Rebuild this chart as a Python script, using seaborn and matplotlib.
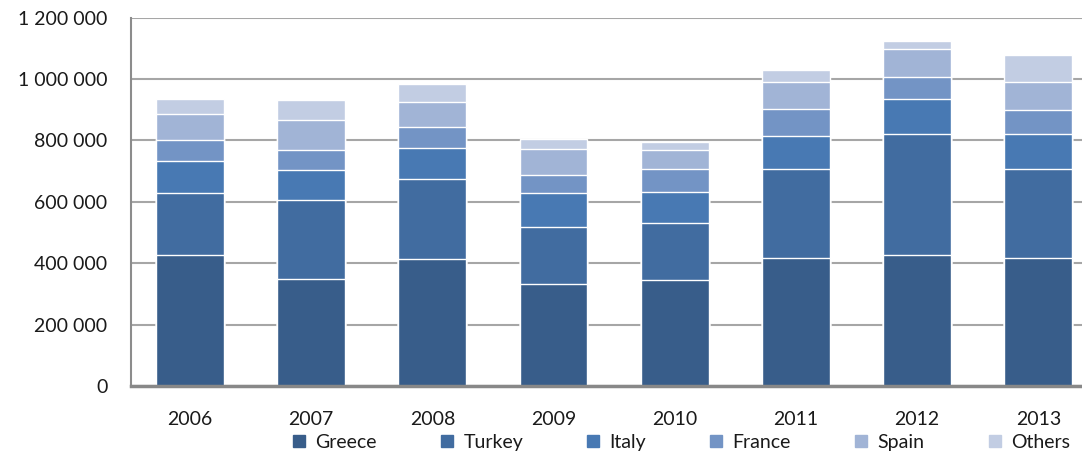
import matplotlib
matplotlib.use("Agg")
import matplotlib.pyplot as plt
from matplotlib.lines import Line2D
from matplotlib.ticker import FuncFormatter, MultipleLocator
import numpy as np
import pandas as pd
import seaborn as sns

# Arrivals by origin country, 2006-2013
years = ["2006", "2007", "2008", "2009", "2010", "2011", "2012", "2013"]
greece = [428000, 348000, 414000, 331000, 344000, 418000, 427000, 418000]
turkey = [200000, 257000, 260000, 188000, 188000, 288000, 393000, 288000]
italy = [105000, 100000, 101000, 109000, 101000, 109000, 115000, 114000]
france = [68000, 65000, 69000, 60000, 73000, 86000, 73000, 79000]
spain = [84000, 95000, 82000, 84000, 63000, 88000, 91000, 90000]
others = [49000, 68000, 58000, 32000, 26000, 39000, 26000, 90000]

series_names = ["Greece", "Turkey", "Italy", "France", "Spain", "Others"]
series_values = [greece, turkey, italy, france, spain, others]
series_colors = ["#385D8A", "#416CA0", "#4879B3", "#7394C5", "#A1B4D6", "#C2CDE3"]

sns.set_theme(style="white")
plt.rcParams["font.family"] = ["Lato", "DejaVu Sans"]

df = pd.DataFrame({"year": years})
for name, vals in zip(series_names, series_values):
    df[name] = vals
cum = df[series_names].cumsum(axis=1)

fig = plt.figure(figsize=(10.82, 4.55), dpi=100)
ax = fig.add_axes([0.121, 0.1516, 0.879, 0.8097])

# Stacked bars: draw cumulative totals from the top layer down
for name, color in reversed(list(zip(series_names, series_colors))):
    sns.barplot(x=df["year"], y=cum[name], order=years, color=color,
                saturation=1, width=0.56, edgecolor="white", linewidth=1.0,
                errorbar=None, ax=ax, zorder=2)

ax.set_xlim(-0.487, 7.36)
ax.set_ylim(0, 1200000)
ax.yaxis.set_major_locator(MultipleLocator(200000))
ax.yaxis.set_major_formatter(FuncFormatter(lambda v, p: f"{v:,.0f}".replace(",", " ")))
ax.set_xlabel("")
ax.set_ylabel("")

ax.set_axisbelow(True)
ax.yaxis.grid(True, color="#A6A6A6", linewidth=1.5)
ax.xaxis.grid(False)

for s in ["top", "right"]:
    ax.spines[s].set_visible(False)
ax.spines["left"].set_color("#8C8C8C")
ax.spines["left"].set_linewidth(1.5)
ax.spines["bottom"].set_color("#888888")
ax.spines["bottom"].set_linewidth(2.5)

ax.tick_params(axis="y", length=0, pad=17, labelsize=14, labelcolor="#1A1A1A")
ax.tick_params(axis="x", length=0, pad=18, labelsize=14, labelcolor="#1A1A1A")

handles = [Line2D([0], [0], marker="s", linestyle="none", markersize=8,
                  markerfacecolor=c, markeredgecolor=c) for c in series_colors]
fig.legend(handles, series_names, loc="center", bbox_to_anchor=(0.629, 0.027),
           ncol=6, frameon=False, fontsize=14, handlelength=0.8,
           handletextpad=0.45, columnspacing=3.2, labelcolor="#1A1A1A")

fig.savefig("out.png", dpi=100)
